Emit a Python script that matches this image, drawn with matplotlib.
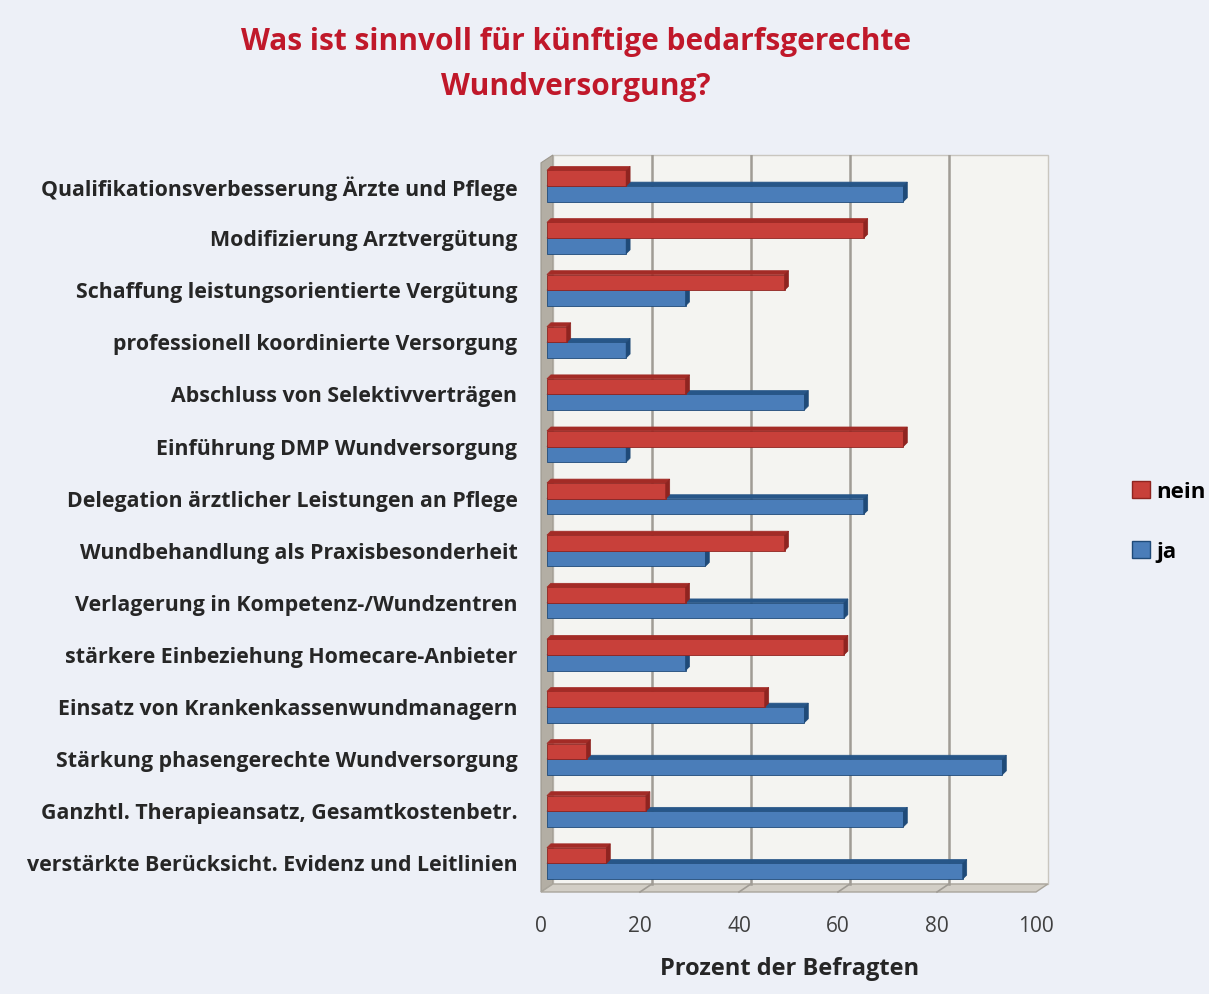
import matplotlib.pyplot as plt
from matplotlib.patches import Polygon, Patch

plt.rcParams["font.family"] = ["Open Sans", "DejaVu Sans"]

# --- data ---
categories = [
    "Qualifikationsverbesserung Ärzte und Pflege",
    "Modifizierung Arztvergütung",
    "Schaffung leistungsorientierte Vergütung",
    "professionell koordinierte Versorgung",
    "Abschluss von Selektivverträgen",
    "Einführung DMP Wundversorgung",
    "Delegation ärztlicher Leistungen an Pflege",
    "Wundbehandlung als Praxisbesonderheit",
    "Verlagerung in Kompetenz-/Wundzentren",
    "stärkere Einbeziehung Homecare-Anbieter",
    "Einsatz von Krankenkassenwundmanagern",
    "Stärkung phasengerechte Wundversorgung",
    "Ganzhtl. Therapieansatz, Gesamtkostenbetr.",
    "verstärkte Berücksicht. Evidenz und Leitlinien",
]
nein = [16, 64, 48, 4, 28, 72, 24, 48, 28, 60, 44, 8, 20, 12]
ja = [72, 16, 28, 16, 52, 16, 64, 32, 60, 28, 52, 92, 72, 84]
xticks = [0, 20, 40, 60, 80, 100]

# colours
bg = "#edf0f7"
wall = "#f4f4f1"
side = "#b3aea4"
floor = "#d2cec6"
red_front, red_top, red_side = "#c8403a", "#a32b26", "#8f2420"
blue_front, blue_top, blue_side = "#4a7db9", "#275688", "#1f4a78"

fig = plt.figure(figsize=(12.09, 9.94), dpi=100, facecolor=bg)
ax = fig.add_axes([541 / 1209, 1 - 892 / 994, 495 / 1209, 737 / 994])
ax.set_facecolor("none")
ax.set_xlim(0, 100)
ytop, ybot = -0.595, 13.55
ax.set_ylim(ybot, ytop)
for s in ax.spines.values():
    s.set_visible(False)

# 3D box: back wall offset
dxw = 2.4           # back wall offset in x units
dyw = 8 / 52.1      # back wall offset in row units
yback = ybot - dyw

ax.add_patch(Polygon([(dxw, ytop), (100 + dxw, ytop), (100 + dxw, yback), (dxw, yback)],
                     closed=True, facecolor=wall, edgecolor="#c9c6bf", lw=1, zorder=0,
                     clip_on=False))
# left wall
ax.add_patch(Polygon([(0, ytop + 0.15), (dxw, ytop), (dxw, yback), (0, ybot)],
                     closed=True, facecolor=side, edgecolor="#9d988e", lw=0.8, zorder=1,
                     clip_on=False))
# floor
ax.add_patch(Polygon([(0, ybot), (100, ybot), (100 + dxw, yback), (dxw, yback)],
                     closed=True, facecolor=floor, edgecolor="#a9a59c", lw=1, zorder=1,
                     clip_on=False))
# gridlines on back wall and floor
for t in xticks[1:-1]:
    ax.plot([t + dxw, t + dxw], [ytop, yback], color="#a09c95", lw=1.8, zorder=1)
    ax.plot([t, t + dxw], [ybot, yback], color="#a09c95", lw=1.2, zorder=1, clip_on=False)

# bars
y = list(range(len(categories)))
h = 0.3
x0 = 1.2
ddx, ddy = 0.8, 0.075


def bar3d(ys, vals, front, top, sidec, z):
    ax.barh(ys, vals, left=x0, height=h, color=front, edgecolor=sidec, lw=0.6, zorder=z)
    for yy, v in zip(ys, vals):
        t = yy - h / 2
        b = yy + h / 2
        ax.add_patch(Polygon([(x0, t), (x0 + v, t), (x0 + v + ddx, t - ddy), (x0 + ddx, t - ddy)],
                             closed=True, facecolor=top, edgecolor=top, lw=0.5, zorder=z))
        ax.add_patch(Polygon([(x0 + v, t), (x0 + v + ddx, t - ddy), (x0 + v + ddx, b - ddy), (x0 + v, b)],
                             closed=True, facecolor=sidec, edgecolor=sidec, lw=0.5, zorder=z))


bar3d([i + 0.15 for i in y], ja, blue_front, blue_top, blue_side, 3)
bar3d([i - 0.15 for i in y], nein, red_front, red_top, red_side, 4)

ax.set_yticks(y)
ax.set_yticklabels(categories, fontsize=15.4, fontweight="bold", color="#262626")
ax.tick_params(axis="y", length=0, pad=17)
ax.set_xticks(xticks)
ax.set_xticklabels([str(t) for t in xticks], fontsize=15, color="#404040")
ax.tick_params(axis="x", length=0, pad=17)
ax.set_xlabel("Prozent der Befragten", fontsize=17, fontweight="bold", color="#262626")
ax.xaxis.set_label_coords((790 - 541) / 495, -(957 - 892) / 737)

fig.text(576 / 1209, 1 - 42 / 994, "Was ist sinnvoll für künftige bedarfsgerechte",
         ha="center", va="center", fontsize=21.5, fontweight="bold", color="#c0182a")
fig.text(576 / 1209, 1 - 87 / 994, "Wundversorgung?",
         ha="center", va="center", fontsize=21.5, fontweight="bold", color="#c0182a")

handles = [Patch(facecolor=red_front, edgecolor=red_side, label="nein"),
           Patch(facecolor=blue_front, edgecolor=blue_side, label="ja")]
fig.legend(handles=handles, loc="center left", bbox_to_anchor=(1112 / 1209, 1 - 522 / 994),
           frameon=False, labelspacing=1.75, handlelength=0.8, handleheight=0.8,
           handletextpad=0.3, prop={"weight": "bold", "size": 16})

plt.savefig("out.png", dpi=100, facecolor=bg)
